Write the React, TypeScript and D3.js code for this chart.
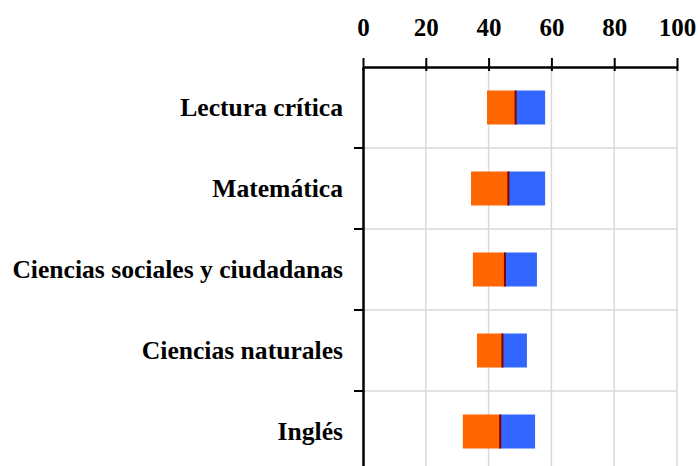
import { useEffect, useRef } from 'react';
import * as d3 from 'd3';

const categories = ['Lectura crítica', 'Matemática', 'Ciencias sociales y ciudadanas', 'Ciencias naturales', 'Inglés'];
const q1 = [39.5, 34.4, 35.0, 36.3, 31.8];
const median = [48.6, 46.3, 45.2, 44.4, 43.7];
const q3 = [58.0, 58.0, 55.4, 52.2, 54.8];
const xTicks = [0, 20, 40, 60, 80, 100];

export default function App() {
  const svgRef = useRef<SVGSVGElement>(null);

  useEffect(() => {
    const svg = d3.select(svgRef.current);
    svg.selectAll('*').remove();

    const left = 363;
    const right = 677;
    const top = 67;
    const bottom = 472;

    const x = d3.scaleLinear().domain([0, 100]).range([left, right]);
    const y = d3.scaleBand().domain(categories).range([top, bottom]).paddingInner(0).paddingOuter(0);
    const barH = 34;
    const font = '"Liberation Serif", "Times New Roman", serif';

    // vertical grid
    svg.append('g')
      .selectAll('line')
      .data(xTicks.slice(1))
      .join('line')
      .attr('x1', d => x(d)).attr('x2', d => x(d))
      .attr('y1', top).attr('y2', bottom)
      .attr('stroke', '#d9d9d9').attr('stroke-width', 1.5);

    // horizontal grid between categories
    svg.append('g')
      .selectAll('line')
      .data(categories.slice(1))
      .join('line')
      .attr('x1', left).attr('x2', right)
      .attr('y1', d => y(d)!).attr('y2', d => y(d)!)
      .attr('stroke', '#d9d9d9').attr('stroke-width', 1.5);

    const rows = categories.map((c, i) => ({ c, q1: q1[i], med: median[i], q3: q3[i] }));
    const g = svg.append('g');
    const cy = (d: { c: string }) => y(d.c)! + y.bandwidth() / 2 - barH / 2;

    g.selectAll('.lo')
      .data(rows)
      .join('rect')
      .attr('x', d => x(d.q1))
      .attr('y', cy)
      .attr('width', d => x(d.med) - x(d.q1))
      .attr('height', barH)
      .attr('fill', '#ff6600');

    g.selectAll('.hi')
      .data(rows)
      .join('rect')
      .attr('x', d => x(d.med))
      .attr('y', cy)
      .attr('width', d => x(d.q3) - x(d.med))
      .attr('height', barH)
      .attr('fill', '#3366ff');

    g.selectAll('.med')
      .data(rows)
      .join('rect')
      .attr('x', d => x(d.med) - 1)
      .attr('y', cy)
      .attr('width', 2)
      .attr('height', barH)
      .attr('fill', '#800000');

    // top axis
    const xAxis = svg.append('g')
      .attr('transform', `translate(0,${top})`)
      .call(d3.axisTop(x).tickValues(xTicks).tickSize(9).tickPadding(22).tickSizeOuter(0));
    xAxis.select('.domain').attr('stroke', '#000').attr('stroke-width', 2.5);
    xAxis.selectAll('.tick line').attr('stroke', '#000').attr('stroke-width', 2).attr('y2', -9).attr('y1', 4);
    xAxis.selectAll('.tick text')
      .attr('font-family', font)
      .attr('font-weight', 'bold')
      .attr('font-size', 25)
      .attr('fill', '#000');

    // left axis
    const yAxis = svg.append('g')
      .attr('transform', `translate(${left},0)`)
      .call(d3.axisLeft(y).tickSize(0).tickPadding(20));
    yAxis.select('.domain').attr('stroke', '#000').attr('stroke-width', 2.5);
    yAxis.selectAll('.tick text')
      .attr('font-family', font)
      .attr('font-weight', 'bold')
      .attr('font-size', 25.6)
      .attr('fill', '#000');

    // boundary ticks on the left axis
    svg.append('g')
      .selectAll('line')
      .data(categories.slice(1).concat(['end']))
      .join('line')
      .attr('x1', left - 9).attr('x2', left)
      .attr('y1', d => (d === 'end' ? bottom : y(d)!))
      .attr('y2', d => (d === 'end' ? bottom : y(d)!))
      .attr('stroke', '#000').attr('stroke-width', 2);
  }, []);

  return (
    <svg
      ref={svgRef}
      width={698}
      height={466}
      style={{ position: 'absolute', top: 0, left: 0, background: '#fff' }}
    />
  );
}
